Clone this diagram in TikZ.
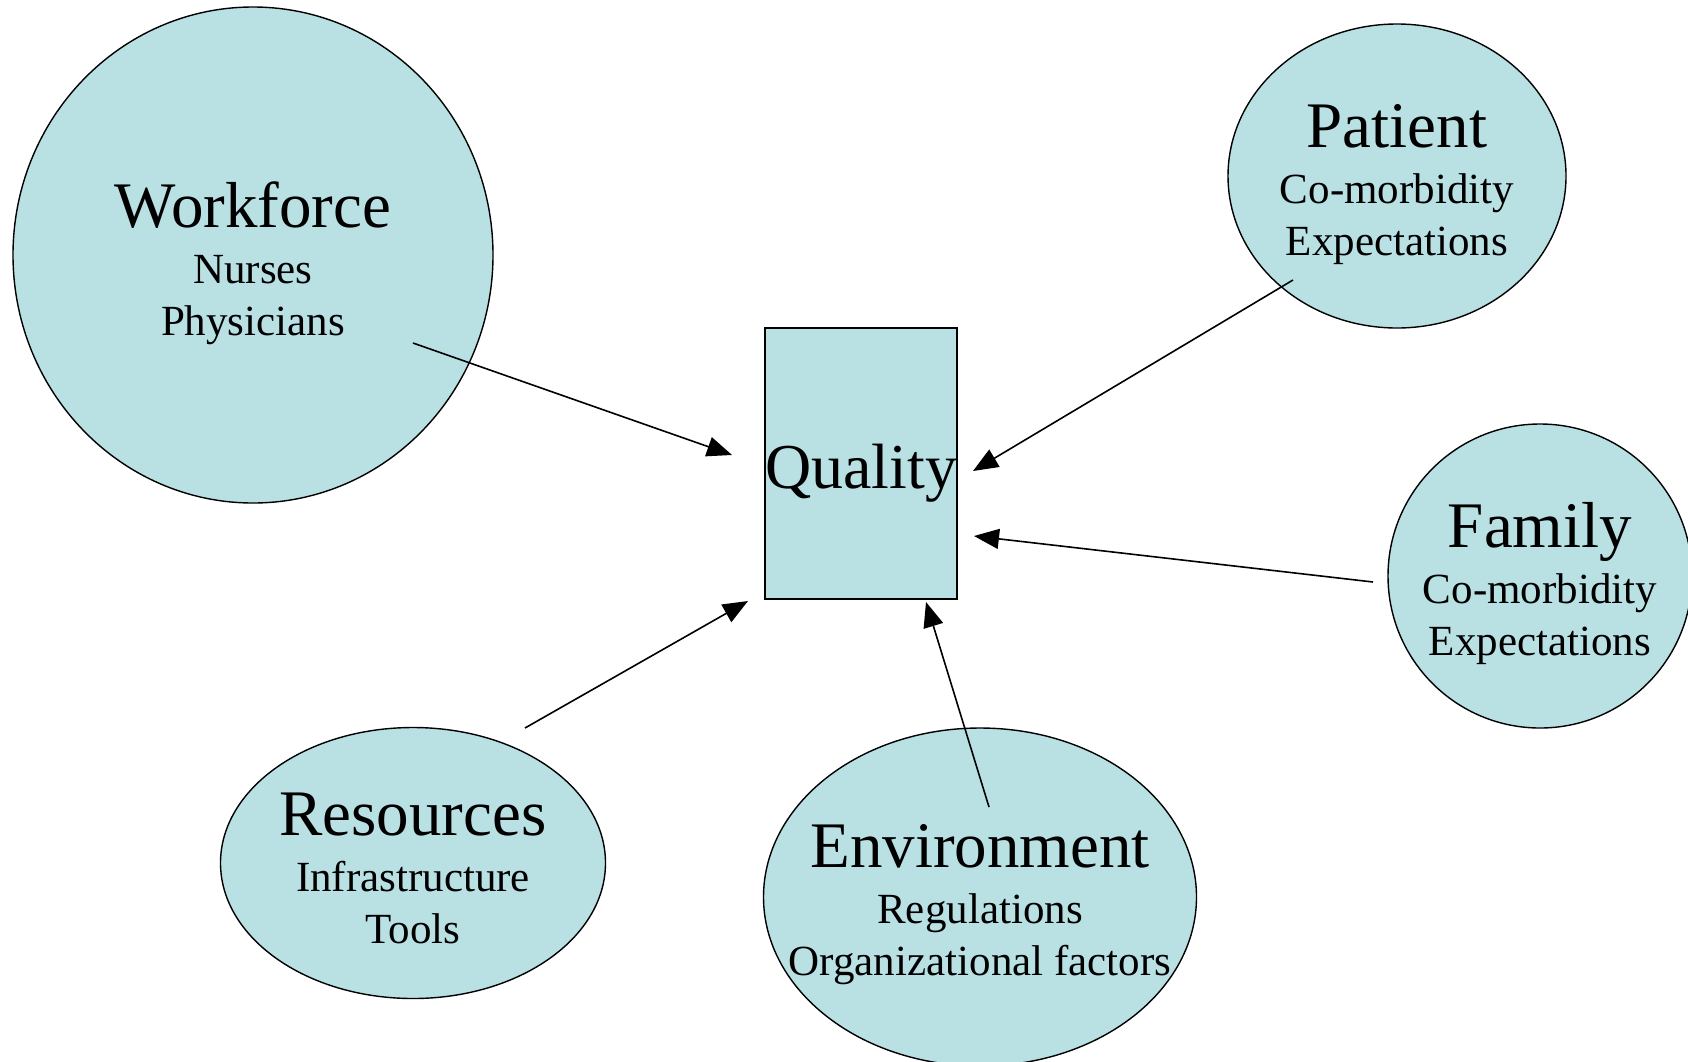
\documentclass[tikz,border=0pt]{standalone}
\usepackage{fontspec}
\setmainfont{Liberation Serif}
\usetikzlibrary{arrows.meta,shapes.geometric}
\definecolor{bubblefill}{RGB}{185,224,227}
\newcommand\bubbletitle[1]{{\fontsize{65}{65}\selectfont #1}}
\begin{document}
\begin{tikzpicture}[x=1pt,y=-1pt,
  bubble/.style={ellipse,draw=black,line width=1.4pt,fill=bubblefill,inner sep=0pt},
  caption/.style={align=center,anchor=base,inner sep=0pt,font=\fontsize{43}{52}\selectfont},
  link/.style={line width=1.6pt,-{Triangle[length=25pt,width=20pt]}},
  ]
\useasboundingbox (0,0) rectangle (1688,1061);

% factor bubbles
\node[bubble,minimum width=480pt,minimum height=496pt] (wf) at (253,255) {};
\node[bubble,minimum width=338pt,minimum height=304pt] (pt) at (1397,176) {};
\node[bubble,minimum width=304pt,minimum height=304pt] (fm) at (1540,576) {};
\node[bubble,minimum width=385pt,minimum height=271pt] (rs) at (413,863) {};
\node[bubble,minimum width=433pt,minimum height=338pt] (ev) at (980,897) {};

% bubble captions (anchored at the baseline of the last line)
\node[caption] (wf-t) at (253,335) {\bubbletitle{Workforce}\\[4pt] Nurses\\ Physicians};
\node[caption] (pt-t) at (1397,255) {\bubbletitle{Patient}\\[4pt] Co-morbidity\\ Expectations};
\node[caption] (fm-t) at (1540,655) {\bubbletitle{Family}\\[4pt] Co-morbidity\\ Expectations};
\node[caption] (rs-t) at (413,943) {\bubbletitle{Resources}\\[4pt] Infrastructure\\ Tools};
\node[caption] (ev-t) at (980,975) {\bubbletitle{Environment}\\[4pt] Regulations\\ Organizational factors};

% central outcome
\node[draw=black,line width=2.4pt,fill=bubblefill,minimum width=192pt,minimum height=271pt,
      inner sep=0pt,text height=49pt,text depth=0pt,font=\fontsize{64}{64}\selectfont]
      (q) at (861,463.5) {Quality};

% arrow end points
\coordinate (wf-out) at (413,343);
\coordinate (q-wf)   at (732,455);
\coordinate (pt-out) at (1293,280);
\coordinate (q-pt)   at (973,471);
\coordinate (fm-out) at (1373,582);
\coordinate (q-fm)   at (974,536);
\coordinate (rs-out) at (525,728);
\coordinate (q-rs)   at (748,601);
\coordinate (ev-out) at (989,807);
\coordinate (q-ev)   at (926,602);

\draw[link] (wf-out) -- (q-wf);
\draw[link] (pt-out) -- (q-pt);
\draw[link] (fm-out) -- (q-fm);
\draw[link] (rs-out) -- (q-rs);
\draw[link] (ev-out) -- (q-ev);
\end{tikzpicture}
\end{document}
